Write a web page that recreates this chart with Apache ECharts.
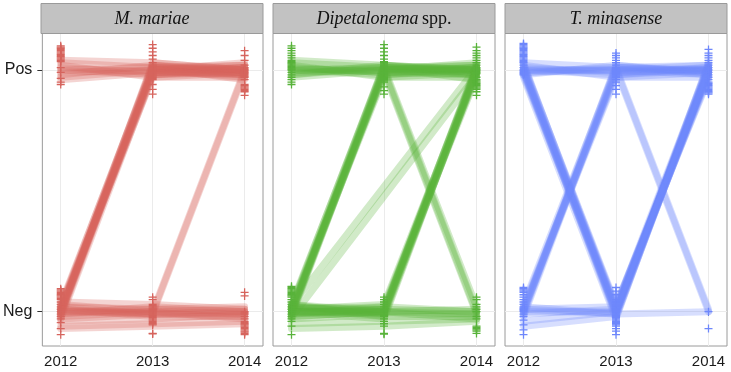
<!DOCTYPE html>
<html>
<head>
<meta charset="utf-8">
<script src="https://cdn.jsdelivr.net/npm/echarts@6/dist/echarts.min.js"></script>
<style>html,body{margin:0;padding:0;background:#fff}#c{width:731px;height:372px}</style>
</head>
<body>
<div id="c"></div>
<script>
// ---- data ----
const years = [2012, 2013, 2014];
const facetNames = ['M. mariae', 'Dipetalonema spp.', 'T. minasense'];
const yTickValues = [0, 1];
const yTickLabels = ['Neg', 'Pos'];
const facetColors = ['#d6645d', '#58b33a', '#6e87fb'];

// status trajectories per host (0 = Neg, 1 = Pos, with jitter), [2012, 2013, 2014]
const mmLines = [
  [1.03,1.01,1.02],[1.01,0.99,1.00],[0.99,1.00,0.98],[1.00,0.98,1.01],[0.98,1.02,0.99],
  [1.02,0.97,0.97],[0.97,1.00,1.03],[1.00,1.01,0.96],[1.04,1.03,1.00],[0.96,0.99,0.99],
  [0.01,1.00,1.00],[0.00,0.99,1.01],[-0.01,1.01,0.99],[0.02,0.98,1.00],[0.00,1.02,0.98],
  [-0.02,1.00,1.02],[0.01,0.97,0.99],[0.03,1.01,1.00],[-0.01,0.99,0.98],[0.00,1.00,1.01],
  [0.02,1.02,1.00],[-0.03,0.98,0.99],[0.01,1.00,0.97],[-0.01,1.03,1.00],
  [0.00,0.00,1.00],[0.02,-0.01,0.99],
  [0.02,0.01,0.00],[0.00,-0.01,-0.01],[-0.02,0.00,0.01],[0.01,-0.02,-0.02],[-0.01,0.02,0.00],
  [0.03,0.00,-0.03],[-0.04,-0.03,-0.01],[0.00,0.01,0.02],[-0.03,-0.01,-0.02],[0.04,0.03,0.01],
  [-0.06,-0.05,-0.04],[-0.07,-0.06,-0.05],[0.01,-0.01,0.00],[-0.01,0.00,-0.01]
];
const dpLines = [
  [1.03,1.01,1.02],[1.01,0.99,1.00],[0.99,1.00,0.98],[1.00,0.98,1.01],[0.98,1.02,0.99],
  [1.02,0.97,0.97],[0.97,1.00,1.03],[1.00,1.01,0.96],[1.04,1.02,1.00],
  [0.01,1.00,1.00],[0.00,0.99,1.01],[-0.01,1.01,0.99],[0.02,0.98,1.00],[0.00,1.02,0.98],
  [-0.02,1.00,1.02],[0.01,0.97,0.99],[0.03,1.01,1.00],[-0.01,0.99,0.98],[0.00,1.00,1.01],
  [0.02,1.02,1.00],
  [0.025,null,1.01],[-0.025,null,0.98],
  [1.00,1.00,0.00],[0.98,1.01,0.02],[1.01,0.99,-0.01],
  [0.00,0.00,1.00],[0.02,-0.01,0.99],[-0.01,0.01,1.01],[0.01,0.02,0.98],[-0.02,0.00,1.02],
  [0.03,-0.02,1.00],[0.00,0.01,0.97],[-0.03,-0.01,0.99],[0.02,0.00,1.01],[0.00,-0.03,1.00],
  [0.01,0.03,1.00],
  [0.02,0.01,0.00],[0.00,-0.01,-0.01],[-0.02,0.00,0.01],[0.01,-0.02,-0.02],[-0.01,0.02,0.00],
  [0.03,0.00,-0.03],[-0.05,-0.04,-0.03],[-0.07,-0.06,-0.04],[0.00,0.00,-0.01]
];
const tmLines = [
  [1.03,1.01,1.02],[1.01,0.99,1.00],[0.99,1.00,0.98],[1.00,0.98,1.01],[0.98,1.02,0.99],
  [1.02,0.97,0.97],[1.00,1.00,1.00],
  [1.00,0.00,1.00],[0.99,0.01,0.99],[1.01,-0.01,1.01],[1.02,0.02,0.98],[0.98,0.00,1.02],
  [1.00,-0.02,1.00],[1.01,0.01,0.97],[0.99,-0.01,1.01],[1.00,0.02,0.99],[1.03,0.00,1.00],
  [0.97,-0.03,1.03],[1.02,0.03,0.96],
  [0.00,1.00,1.00],[0.01,0.99,1.01],[-0.01,1.01,0.99],[0.02,0.98,1.00],[0.00,1.02,0.98],
  [-0.02,1.00,1.02],[0.01,0.97,0.99],[0.03,1.01,1.00],
  [0.00,0.00,1.00],[0.02,-0.01,0.99],[-0.01,0.01,1.01],[-0.04,0.00,0.98],[-0.06,-0.02,1.00],
  [0.01,0.02,1.02],
  [1.00,1.00,0.00],[0.99,1.01,0.01],
  [0.01,-0.01,0.00]
];

// jittered observation points per facet and year
const mmPts2012 = [1.10,1.095,1.09,1.085,1.08,1.075,1.07,1.065,1.06,1.055,1.05,1.045,1.04,1.035,1.01,0.99,0.965,0.95,0.94,
  0.095,0.09,0.085,0.08,0.075,0.07,0.065,0.06,0.055,0.05,0.04,0.03,0.02,0.01,0.0,-0.01,-0.02,-0.03,-0.045,-0.07,-0.095];
const mmPts2013 = [1.105,1.09,1.075,1.06,1.045,1.03,1.02,1.015,1.01,1.005,1.0,0.995,0.99,0.985,0.98,0.975,0.97,0.965,0.96,0.94,0.92,0.90,
  0.06,0.05,0.03,0.025,0.02,0.015,0.01,0.005,0.0,-0.005,-0.01,-0.015,-0.02,-0.025,-0.03,-0.035,-0.04,-0.045,-0.05,-0.055,-0.09,-0.092];
const mmPts2014 = [1.08,1.06,1.04,1.02,1.01,1.005,1.0,0.995,0.99,0.985,0.98,0.975,0.97,0.96,0.94,0.935,0.93,0.925,0.92,0.915,0.91,0.895,
  0.08,0.065,0.0,-0.005,-0.01,-0.02,-0.03,-0.04,-0.045,-0.05,-0.055,-0.06,-0.065,-0.07,-0.075,-0.08,-0.085,-0.09,-0.095];
const dpPts2012 = [1.10,1.09,1.08,1.07,1.06,1.05,1.04,1.035,1.03,1.025,1.02,1.015,1.01,1.005,1.0,0.99,0.98,0.97,0.96,0.95,0.94,
  0.105,0.1,0.095,0.09,0.085,0.08,0.075,0.07,0.065,0.06,0.05,0.04,0.03,0.02,0.01,0.0,-0.01,-0.02,-0.03,-0.04,-0.06,-0.095];
const dpPts2013 = [1.105,1.09,1.075,1.06,1.045,1.035,1.03,1.025,1.02,1.015,1.01,1.005,1.0,0.995,0.99,0.985,0.98,0.975,0.97,0.965,0.96,0.955,0.95,0.93,0.915,0.90,
  0.06,0.05,0.04,0.03,0.02,0.01,0.005,0.0,-0.005,-0.01,-0.015,-0.02,-0.03,-0.04,-0.05,-0.06,-0.09,-0.093];
const dpPts2014 = [1.095,1.08,1.07,1.06,1.05,1.04,1.03,1.02,1.01,1.005,1.0,0.995,0.99,0.985,0.97,0.96,0.955,0.95,0.945,0.94,0.935,0.93,0.925,0.92,0.91,0.895,
  0.06,0.05,0.03,0.02,0.01,0.0,-0.02,-0.03,-0.06,-0.065,-0.07,-0.075,-0.08,-0.09];
const tmPts2012 = [1.11,1.105,1.10,1.095,1.09,1.085,1.08,1.075,1.07,1.065,1.06,1.055,1.05,1.045,1.04,1.035,1.03,1.02,1.01,1.0,0.995,0.99,0.985,0.98,
  0.10,0.095,0.09,0.085,0.08,0.07,0.06,0.05,0.04,0.03,0.02,0.015,0.01,0.005,0.0,-0.01,-0.02,-0.035,-0.055,-0.075,-0.095];
const tmPts2013 = [1.07,1.06,1.05,1.04,1.03,1.02,1.01,1.005,1.0,0.995,0.99,0.985,0.98,0.975,0.97,0.96,0.95,0.935,0.92,0.90,
  0.10,0.085,0.07,0.05,0.04,0.03,0.025,0.02,0.015,0.01,0.005,0.0,-0.005,-0.01,-0.015,-0.02,-0.025,-0.03,-0.035,-0.04,-0.045,-0.05,-0.055,-0.06,-0.07,-0.08,-0.095];
const tmPts2014 = [1.085,1.07,1.06,1.05,1.04,1.03,1.02,1.01,1.0,0.99,0.98,0.97,0.96,0.95,0.945,0.94,0.935,0.93,0.925,0.92,0.915,0.91,0.905,0.90,
  0.0,-0.07];

// ---- build ----
const facetLines = [mmLines, dpLines, tmLines];
const facetPts = [[mmPts2012, mmPts2013, mmPts2014], [dpPts2012, dpPts2013, dpPts2014], [tmPts2012, tmPts2013, tmPts2014]];

const panelLeft = [41, 273, 505];
const panelW = 222, panelTop = 33.5, panelH = 312.5, stripTop = 3.5;
const X_MIN = 2011.8, X_MAX = 2014.2, Y_MIN = -0.142, Y_MAX = 1.151;
const plusPath = 'path://M4.2,0H5.8V4.2H10V5.8H5.8V10H4.2V5.8H0V4.2H4.2Z';
const sans = 'Liberation Sans, Arial, Helvetica, sans-serif';
const serif = 'Liberation Serif, Times New Roman, serif';

const grids = [], xAxes = [], yAxes = [], series = [], graphics = [];
for (let f = 0; f < 3; f++) {
  grids.push({left: panelLeft[f], top: panelTop, width: panelW, height: panelH,
    show: true, borderColor: '#9a9a9a', borderWidth: 1, backgroundColor: '#fff', z: 0});
  xAxes.push({type: 'value', gridIndex: f, min: X_MIN, max: X_MAX,
    axisLine: {show: false},
    axisTick: {show: true, length: 4, lineStyle: {color: '#333'}, customValues: years},
    axisLabel: {customValues: years, margin: 8, fontSize: 15, color: '#1a1a1a', fontFamily: sans,
      formatter: v => String(Math.round(v))},
    splitLine: {show: true, lineStyle: {color: '#ebebeb', width: 1}}});
  yAxes.push({type: 'value', gridIndex: f, min: Y_MIN, max: Y_MAX,
    axisLine: {show: false},
    axisTick: {show: f === 0, length: 5, lineStyle: {color: '#333'}, customValues: yTickValues},
    axisLabel: {show: f === 0, customValues: yTickValues, margin: 10, fontSize: 16, color: '#1a1a1a', fontFamily: sans,
      formatter: v => yTickLabels[yTickValues.indexOf(Math.round(v))]},
    splitLine: {show: true, lineStyle: {color: '#ebebeb', width: 1}}});
  facetLines[f].forEach(traj => {
    const data = [];
    years.forEach((yr, k) => { if (traj[k] !== null) data.push([yr, traj[k]]); });
    series.push({type: 'line', xAxisIndex: f, yAxisIndex: f, data, symbol: 'none', silent: true,
      animation: false, z: 2,
      lineStyle: {color: facetColors[f], width: 7, opacity: 0.28, cap: 'round', join: 'round'}});
  });
  const pts = [];
  facetPts[f].forEach((arr, k) => arr.forEach(v => pts.push([years[k], v])));
  series.push({type: 'scatter', xAxisIndex: f, yAxisIndex: f, data: pts, symbol: plusPath, symbolSize: 8,
    animation: false, silent: true, z: 3, itemStyle: {color: facetColors[f], opacity: 1}});
  // strip
  const isDip = f === 1;
  graphics.push({type: 'rect', shape: {x: panelLeft[f], y: stripTop, width: panelW, height: panelTop - stripTop},
    style: {fill: '#c2c2c2', stroke: '#9a9a9a', lineWidth: 1}, z: 10});
  graphics.push({type: 'text', x: panelLeft[f] + panelW / 2, y: stripTop + (panelTop - stripTop) / 2 + 1, z: 11,
    style: isDip ? {
      text: '{i|Dipetalonema} {n|spp.}', align: 'center', verticalAlign: 'middle',
      rich: {i: {fontStyle: 'italic', fontFamily: serif, fontSize: 18, fill: '#111'},
             n: {fontFamily: serif, fontSize: 18, fill: '#111'}}
    } : {
      text: facetNames[f], align: 'center', verticalAlign: 'middle',
      fontStyle: 'italic', fontFamily: serif, fontSize: 18, fill: '#111'
    }});
}

const chart = echarts.init(document.getElementById('c'), null, {renderer: 'canvas'});
chart.setOption({
  animation: false,
  backgroundColor: '#fff',
  grid: grids, xAxis: xAxes, yAxis: yAxes, series, graphic: graphics
});
</script>
</body>
</html>
